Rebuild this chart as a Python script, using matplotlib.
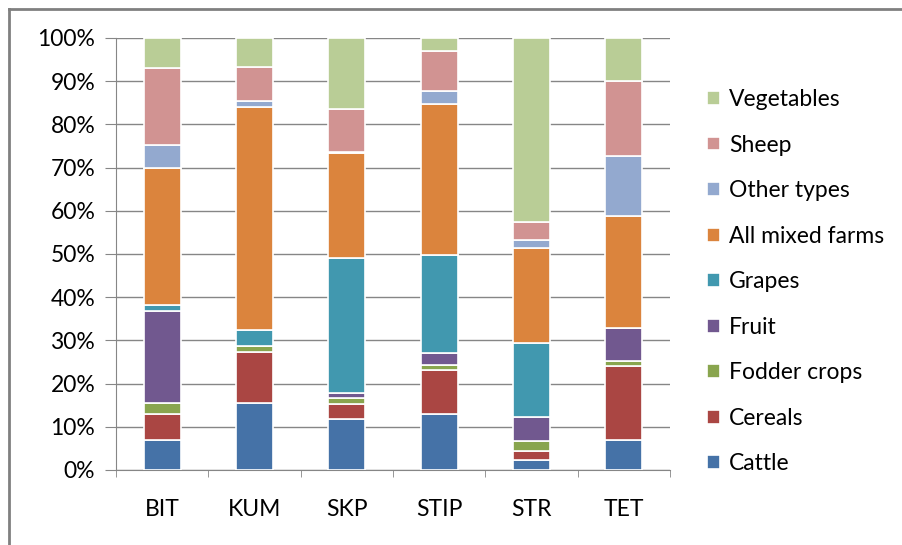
import matplotlib.pyplot as plt
from matplotlib.lines import Line2D
from matplotlib.ticker import PercentFormatter
import numpy as np

plt.rcParams['font.family'] = ['Lato', 'DejaVu Sans']

regions = ['BIT', 'KUM', 'SKP', 'STIP', 'STR', 'TET']

# shares in % (bottom to top of each bar)
cattle = [7.0, 15.4, 11.9, 13.0, 2.2, 6.9]
cereals = [6.0, 11.8, 3.4, 10.1, 2.2, 17.1]
fodder = [2.5, 1.6, 1.4, 1.3, 2.2, 1.3]
fruit = [21.3, 0.0, 1.2, 2.6, 5.6, 7.5]
grapes = [1.4, 3.6, 31.4, 22.8, 17.1, 0.0]
mixed = [31.7, 51.7, 24.2, 34.9, 22.2, 26.0]
other = [5.3, 1.4, 0.3, 3.0, 1.7, 13.9]
sheep = [17.9, 7.8, 10.1, 9.3, 4.2, 17.4]
vegetables = [7.0, 6.7, 16.4, 3.0, 42.6, 9.9]

series = [
    ('Cattle', cattle, '#4572A7'),
    ('Cereals', cereals, '#AA4643'),
    ('Fodder crops', fodder, '#89A54E'),
    ('Fruit', fruit, '#71588F'),
    ('Grapes', grapes, '#4198AF'),
    ('All mixed farms', mixed, '#DB843D'),
    ('Other types', other, '#93A9CF'),
    ('Sheep', sheep, '#D19392'),
    ('Vegetables', vegetables, '#B9CD96'),
]

fig = plt.figure(figsize=(9.03, 5.45), dpi=100)
ax = fig.add_axes([116 / 903, (545 - 470) / 545, (670 - 116) / 903, (470 - 38) / 545])

x = np.arange(len(regions))
totals = np.sum([s[1] for s in series], axis=0)
bottom = np.zeros(len(regions))
handles = []
for name, vals, col in series:
    v = np.array(vals) / totals * 100
    b = ax.bar(x, v, 0.4, bottom=bottom, color=col, edgecolor='white',
               linewidth=1.2, label=name, zorder=3)
    handles.append(b)
    bottom += v

ax.set_xlim(-0.5, len(regions) - 0.5)
ax.set_ylim(0, 100)
ax.set_yticks(np.arange(0, 101, 10))
ax.yaxis.set_major_formatter(PercentFormatter(decimals=0))
ax.set_xticks(x)
ax.set_xticklabels(regions)
ax.set_xticks(np.arange(-0.5, len(regions), 1), minor=True)
ax.tick_params(axis='x', which='major', length=0, pad=21, labelsize=16.5, colors='#000000')
ax.tick_params(axis='x', which='minor', length=5, color='#868686')
ax.tick_params(axis='y', length=8, color='#868686', labelsize=16.5, pad=7)
ax.grid(axis='y', color='#868686', linewidth=1, zorder=0)
for sp in ['top', 'right']:
    ax.spines[sp].set_visible(False)
for sp in ['left', 'bottom']:
    ax.spines[sp].set_color('#868686')

leg = fig.legend(handles[::-1], [s[0] for s in series][::-1],
                 loc='upper left', bbox_to_anchor=(698 / 903, 1 - 80 / 545),
                 frameon=False, fontsize=16.5, handlelength=0.55, handleheight=0.55,
                 handletextpad=0.4, labelspacing=1.07, borderaxespad=0)

# chart area border (top and left edges)
fig.add_artist(Line2D([9 / 903, 1], [1 - 9 / 545, 1 - 9 / 545], color='#808080', lw=2))
fig.add_artist(Line2D([9 / 903, 9 / 903], [0, 1 - 9 / 545], color='#808080', lw=2))

fig.savefig('out.png', dpi=100)
